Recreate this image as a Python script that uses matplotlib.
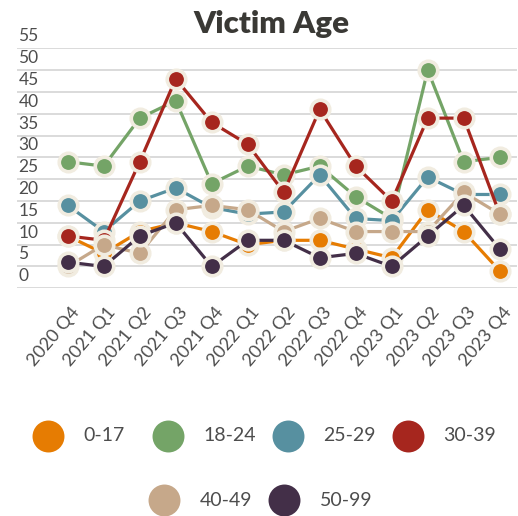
import matplotlib
matplotlib.use("Agg")
import matplotlib.pyplot as plt
import matplotlib.transforms as mtransforms
import numpy as np

QUARTERS = ["2020 Q4", "2021 Q1", "2021 Q2", "2021 Q3", "2021 Q4", "2022 Q1", "2022 Q2",
            "2022 Q3", "2022 Q4", "2023 Q1", "2023 Q2", "2023 Q3", "2023 Q4"]

age_0_17 = [12, 8, 13, 15, 13, 10, 11, 11, 9, 7, 18, 13, 4]
age_18_24 = [29, 28, 39, 43, 24, 28, 26, 28, 21, 16, 50, 29, 30]
age_25_29 = [19, 13, 20, 23, 18.5, 17, 17.5, 26, 16, 15.5, 25.5, 21.5, 21.5]
age_30_39 = [12, 11, 29, 48, 38, 33, 22, 41, 28, 20, 39, 39, 17]
age_40_49 = [5, 10, 8, 18, 19, 18, 13, 16, 13, 13, 13, 22, 17]
age_50_99 = [6, 5, 12, 15, 5, 11, 11, 7, 8, 5, 12, 19, 9]

SERIES = [
    ("0-17", age_0_17, "#e67c02"),
    ("18-24", age_18_24, "#74a467"),
    ("25-29", age_25_29, "#5790a0"),
    ("30-39", age_30_39, "#a6261e"),
    ("40-49", age_40_49, "#c6a88a"),
    ("50-99", age_50_99, "#432f48"),
]

Y_TICKS = list(range(0, 60, 5))

TEXT = "#4d4d4d"
EDGE = "#f1ece0"

plt.rcParams["font.family"] = ["Lato", "DejaVu Sans"]

W, H = 518, 516
fig = plt.figure(figsize=(W / 100, H / 100), dpi=100)
ax = fig.add_axes([17 / W, 1 - 288.3 / H, 500 / W, 240 / H])
ax.set_xlim(-1.41, 12.48)
ax.set_ylim(0, 55)
for s in ax.spines.values():
    s.set_visible(False)
ax.set_xticks([])
ax.set_yticks([])

for v in Y_TICKS:
    ax.axhline(v, color="#d4d4d4", lw=1.2, zorder=0)

x = np.arange(len(QUARTERS))
for name, vals, color in SERIES:
    ax.plot(x, vals, color=color, lw=2.3, marker="o", ms=13.3, mfc=color,
            mec=EDGE, mew=2.6, clip_on=False, solid_capstyle="round")

# y labels sit just above their gridline
ylab_tr = ax.get_yaxis_transform() + mtransforms.ScaledTranslation(0, 7 / 100, fig.dpi_scale_trans)
for v in Y_TICKS:
    ax.text(0.003, v, str(v), transform=ylab_tr, ha="left", va="baseline",
            fontsize=12.5, color=TEXT)

# rotated x labels
xlab_tr = ax.get_xaxis_transform() + mtransforms.ScaledTranslation(3 / 100, -16 / 100, fig.dpi_scale_trans)
for i, q in enumerate(QUARTERS):
    ax.text(i, 0, q, transform=xlab_tr, rotation=50, rotation_mode="anchor",
            ha="right", va="top", fontsize=13, color=TEXT)

fig.text(271 / W, 1 - 33 / H, "Victim Age", ha="center", va="baseline",
         fontsize=22.5, fontweight="heavy", color="#3a3935")

# legend drawn in its own pixel-space axes
lax = fig.add_axes([0, 0, 1, 1])
lax.set_xlim(0, W)
lax.set_ylim(H, 0)
lax.axis("off")
rows = [(SERIES[:4], 47.7, 435.7), (SERIES[4:], 164, 500)]
for items, x0, y0 in rows:
    for k, (name, vals, color) in enumerate(items):
        cx = x0 + 120 * k
        lax.plot(cx, y0, "o", ms=23, color=color, mew=0, clip_on=False)
        lax.text(cx + 35.6, y0, name, ha="left", va="center", fontsize=14, color=TEXT)

fig.savefig("out.png", dpi=100)
